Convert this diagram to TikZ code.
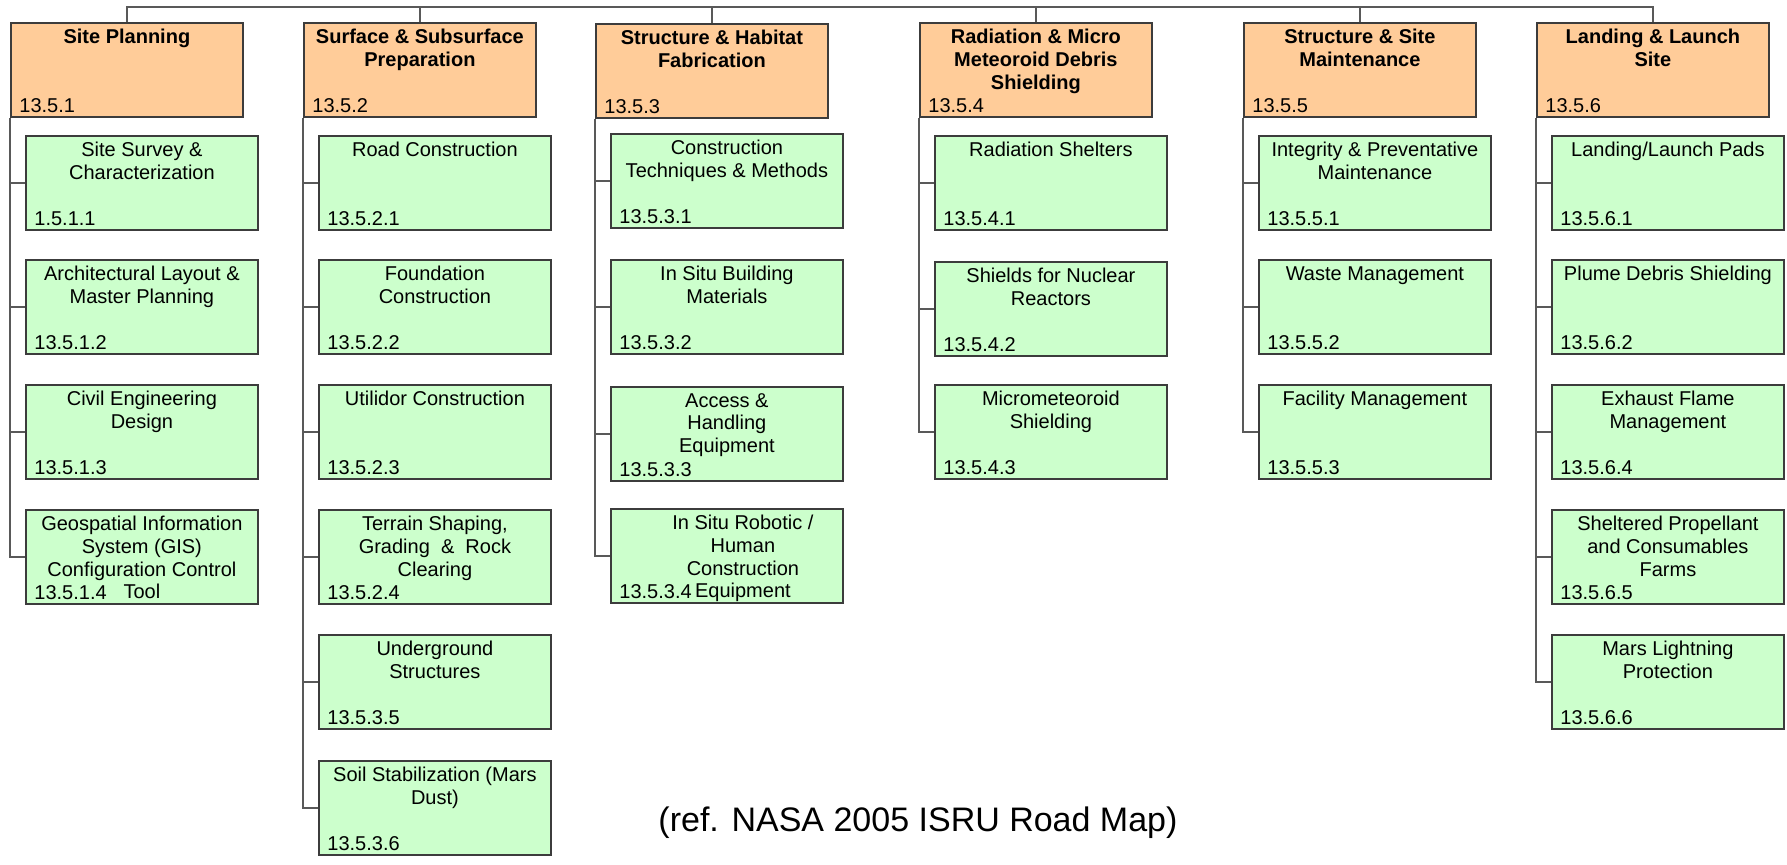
\documentclass[tikz,border=0pt]{standalone}
\usepackage{fontspec}
\setmainfont{Liberation Sans}
\usepackage{tikz}

\definecolor{peach}{HTML}{FFCC99}
\definecolor{mint}{HTML}{CCFFCC}
\definecolor{edge}{HTML}{3C3C3C}
\definecolor{wire}{HTML}{595959}

% one box: name, box style, title style, position, title, number
\newcommand{\wbs}[6]{%
  \node[#2] (#1) at (#4) {};
  \node[#3] (#1t) at ([yshift=-3.5pt]#1.north) {#5};
  \node[idnum] (#1n) at ([shift={(4.5pt,2.2pt)}]#1.south west) {#6};
}

\begin{document}
\begin{tikzpicture}[x=0.5pt, y=-0.5pt,
    main/.style = {draw=edge, line width=0.9pt, fill=peach, anchor=north west,
                   minimum width=116pt, minimum height=47pt, inner sep=0pt},
    task/.style = {main, fill=mint},
    mainttl/.style = {anchor=north, align=center, inner sep=0pt,
                      font=\bfseries\fontsize{10}{11.3}\selectfont},
    taskttl/.style = {mainttl, font=\fontsize{10}{11.3}\selectfont},
    idnum/.style = {anchor=south west, inner sep=0pt,
                    font=\fontsize{10}{11.3}\selectfont},
    link/.style = {draw=wire, line width=1pt}]
    \useasboundingbox (0,0) rectangle (1787,865);

    % second level
    \wbs{p1}{main}{mainttl}{10,22}{Site Planning}{13.5.1}
    \wbs{p2}{main}{mainttl}{303,22}{Surface \& Subsurface\\Preparation}{13.5.2}
    \wbs{p3}{main}{mainttl}{595,23}{Structure \& Habitat\\Fabrication}{13.5.3}
    \wbs{p4}{main}{mainttl}{919,22}{Radiation \& Micro\\Meteoroid Debris\\Shielding}{13.5.4}
    \wbs{p5}{main}{mainttl}{1243,22}{Structure \& Site\\Maintenance}{13.5.5}
    \wbs{p6}{main}{mainttl}{1536,22}{Landing \& Launch\\Site}{13.5.6}

    % site planning
    \wbs{c11}{task}{taskttl}{25,135}{Site Survey \&\\Characterization}{1.5.1.1}
    \wbs{c12}{task}{taskttl}{25,259}{Architectural Layout \&\\Master Planning}{13.5.1.2}
    \wbs{c13}{task}{taskttl}{25,384}{Civil Engineering\\Design}{13.5.1.3}
    \wbs{c14}{task}{taskttl}{25,509}{Geospatial Information\\System (GIS)\\Configuration Control\\Tool}{13.5.1.4}

    % surface preparation
    \wbs{c21}{task}{taskttl}{318,135}{Road Construction}{13.5.2.1}
    \wbs{c22}{task}{taskttl}{318,259}{Foundation\\Construction}{13.5.2.2}
    \wbs{c23}{task}{taskttl}{318,384}{Utilidor Construction}{13.5.2.3}
    \wbs{c24}{task}{taskttl}{318,509}{Terrain Shaping,\\Grading \ \& \ Rock\\Clearing}{13.5.2.4}
    \wbs{c25}{task}{taskttl}{318,634}{Underground\\Structures}{13.5.3.5}
    \wbs{c26}{task}{taskttl}{318,760}{Soil Stabilization (Mars\\Dust)}{13.5.3.6}

    % habitat fabrication
    \wbs{c31}{task}{taskttl}{610,133}{Construction\\Techniques \& Methods}{13.5.3.1}
    \wbs{c32}{task}{taskttl}{610,259}{In Situ Building\\Materials}{13.5.3.2}
    \wbs{c33}{task}{taskttl}{610,386}{Access \&\\Handling\\Equipment}{13.5.3.3}
    \node[task] (c34) at (610,508) {};
    \node[taskttl] (c34t) at ([shift={(8pt,-3.5pt)}]c34.north) {In Situ Robotic /\\Human\\Construction\\Equipment};
    \node[idnum] (c34n) at ([shift={(4.5pt,2.2pt)}]c34.south west) {13.5.3.4};

    % shielding
    \wbs{c41}{task}{taskttl}{934,135}{Radiation Shelters}{13.5.4.1}
    \wbs{c42}{task}{taskttl}{934,261}{Shields for Nuclear\\Reactors}{13.5.4.2}
    \wbs{c43}{task}{taskttl}{934,384}{Micrometeoroid\\Shielding}{13.5.4.3}

    % maintenance
    \wbs{c51}{task}{taskttl}{1258,135}{Integrity \& Preventative\\Maintenance}{13.5.5.1}
    \wbs{c52}{task}{taskttl}{1258,259}{Waste Management}{13.5.5.2}
    \wbs{c53}{task}{taskttl}{1258,384}{Facility Management}{13.5.5.3}

    % landing site
    \wbs{c61}{task}{taskttl}{1551,135}{Landing/Launch Pads}{13.5.6.1}
    \wbs{c62}{task}{taskttl}{1551,259}{Plume Debris Shielding}{13.5.6.2}
    \wbs{c63}{task}{taskttl}{1551,384}{Exhaust Flame\\Management}{13.5.6.4}
    \wbs{c64}{task}{taskttl}{1551,509}{Sheltered Propellant\\and Consumables\\Farms}{13.5.6.5}
    \wbs{c65}{task}{taskttl}{1551,634}{Mars Lightning\\Protection}{13.5.6.6}

    \node (refnote) at (918,823) {\fontsize{17}{20}\selectfont (ref. NASA 2005 ISRU Road Map)};

    % top bus
    \coordinate (bus) at (0,7);
    \draw[link] (p1.north) -- (p1.north |- bus) -- (p6.north |- bus) -- (p6.north);
    \draw[link] (p2.north) -- (p2.north |- bus);
    \draw[link] (p3.north) -- (p3.north |- bus);
    \draw[link] (p4.north) -- (p4.north |- bus);
    \draw[link] (p5.north) -- (p5.north |- bus);

    % branches
    \draw[link] (p1.south west) |- (c11.west);
    \draw[link] (p1.south west) |- (c12.west);
    \draw[link] (p1.south west) |- (c13.west);
    \draw[link] (p1.south west) |- (c14.west);
    \draw[link] (p2.south west) |- (c21.west);
    \draw[link] (p2.south west) |- (c22.west);
    \draw[link] (p2.south west) |- (c23.west);
    \draw[link] (p2.south west) |- (c24.west);
    \draw[link] (p2.south west) |- (c25.west);
    \draw[link] (p2.south west) |- (c26.west);
    \draw[link] (p3.south west) |- (c31.west);
    \draw[link] (p3.south west) |- (c32.west);
    \draw[link] (p3.south west) |- (c33.west);
    \draw[link] (p3.south west) |- (c34.west);
    \draw[link] (p4.south west) |- (c41.west);
    \draw[link] (p4.south west) |- (c42.west);
    \draw[link] (p4.south west) |- (c43.west);
    \draw[link] (p5.south west) |- (c51.west);
    \draw[link] (p5.south west) |- (c52.west);
    \draw[link] (p5.south west) |- (c53.west);
    \draw[link] (p6.south west) |- (c61.west);
    \draw[link] (p6.south west) |- (c62.west);
    \draw[link] (p6.south west) |- (c63.west);
    \draw[link] (p6.south west) |- (c64.west);
    \draw[link] (p6.south west) |- (c65.west);
\end{tikzpicture}
\end{document}
